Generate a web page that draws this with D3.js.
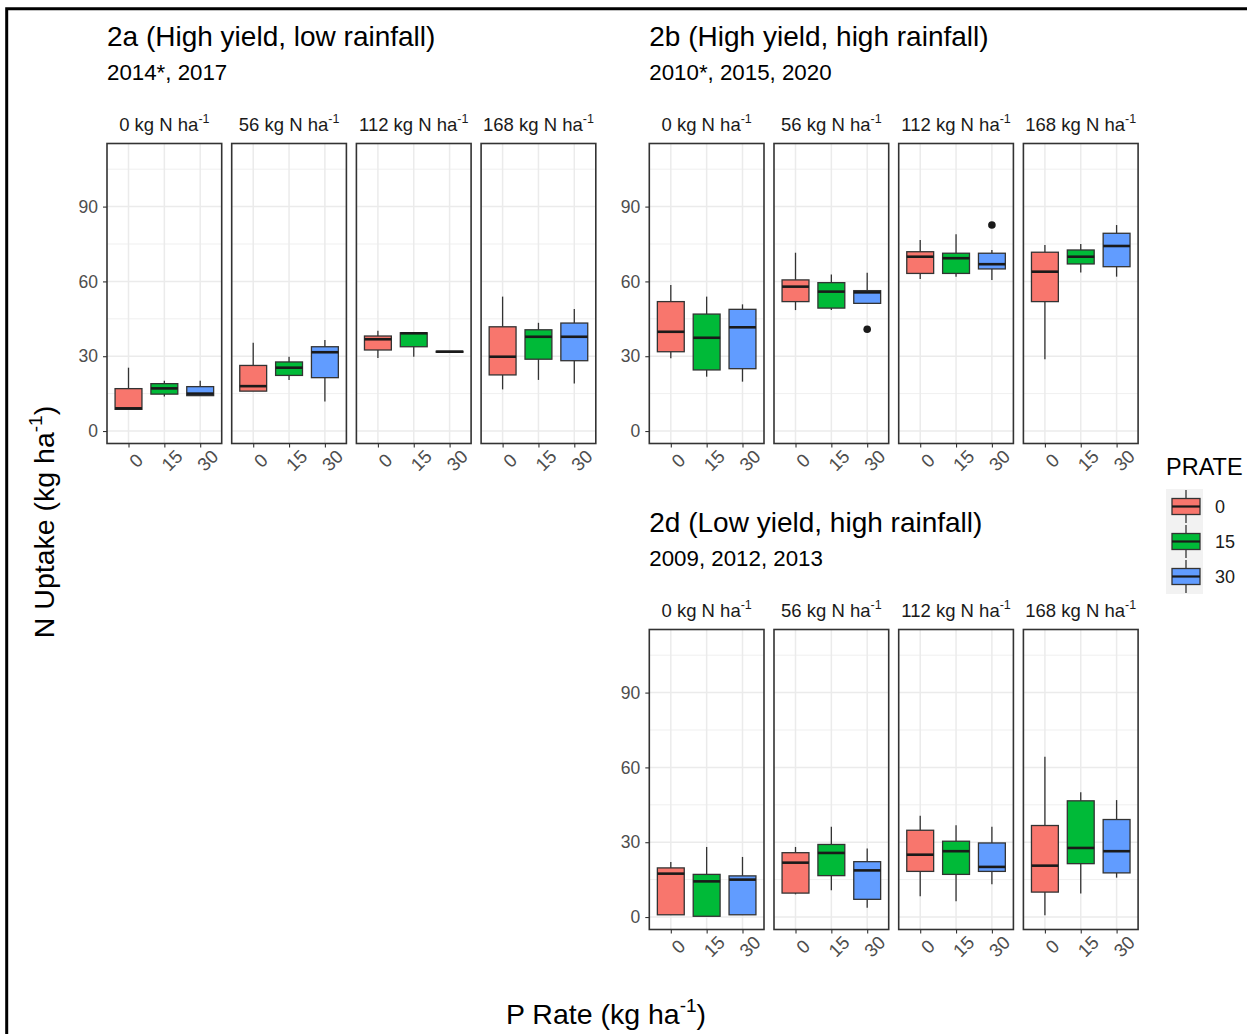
<!DOCTYPE html>
<html>
<head>
<meta charset="utf-8">
<script src="https://cdn.jsdelivr.net/npm/d3@7"></script>
<style>
  html, body { margin: 0; padding: 0; background: #fff; }
  svg { display: block; font-family: "Liberation Sans", Arial, sans-serif; }
</style>
</head>
<body>
<svg id="chart" width="1247" height="1034"></svg>
<script>
// N rates (facets) and P rates (x categories within each facet)
const nRates = ["0", "56", "112", "168"];
const pRates = ["0", "15", "30"];
const yTicks = [0, 30, 60, 90];
const yMinor = [15, 45, 75, 105];
const fillColors = ["#F8766D", "#00BA38", "#619CFF"];

// Box statistics: [lower whisker, Q1, median, Q3, upper whisker]
// one row per N rate, one entry per P rate (0, 15, 30)
const uptake2a = [
  [[8.7, 8.7, 9.1, 17.0, 25.4], [13.8, 14.8, 17.1, 19.0, 20.2], [14.2, 14.2, 15.0, 17.8, 20.2]],
  [[16.0, 16.0, 18.0, 26.3, 35.4], [20.5, 22.3, 25.4, 27.7, 29.8], [11.8, 21.4, 31.6, 33.8, 36.5]],
  [[29.3, 32.5, 36.8, 38.1, 40.2], [29.8, 33.8, 39.2, 39.4, 39.6], [31.5, 31.6, 31.8, 32.0, 32.1]],
  [[16.7, 22.5, 29.8, 41.8, 53.9], [20.5, 28.8, 37.8, 40.6, 43.4], [19.1, 28.2, 37.8, 43.3, 48.9]]
];
const uptake2b = [
  [[29.2, 31.8, 39.8, 51.9, 58.6], [21.8, 24.5, 37.4, 46.9, 53.9], [19.8, 25.0, 41.6, 48.8, 50.8]],
  [[48.5, 51.9, 57.9, 60.6, 71.5], [48.5, 49.3, 55.9, 59.5, 62.8], [51.2, 51.2, 55.6, 56.3, 63.5]],
  [[61.0, 63.2, 69.9, 71.9, 76.6], [61.9, 63.2, 69.3, 71.3, 78.9], [60.6, 65.0, 66.9, 71.3, 72.6]],
  [[28.8, 51.9, 63.9, 71.7, 74.6], [63.6, 67.0, 69.9, 72.6, 75.0], [61.9, 65.9, 74.2, 79.3, 82.6]]
];
const uptake2d = [
  [[0.9, 0.9, 17.4, 19.7, 22.1], [0.3, 0.3, 14.3, 17.1, 28.1], [0.9, 0.9, 15.0, 16.5, 24.1]],
  [[9.1, 9.6, 21.8, 25.8, 28.1], [10.7, 16.6, 25.7, 29.1, 36.2], [3.7, 7.1, 18.7, 22.2, 27.5]],
  [[8.3, 18.3, 25.0, 34.8, 40.6], [6.3, 17.1, 26.4, 30.4, 36.8], [13.1, 18.3, 20.1, 29.7, 36.2]],
  [[0.7, 10.0, 20.6, 36.7, 64.3], [9.4, 21.4, 27.7, 46.6, 50.0], [15.8, 17.7, 26.4, 39.1, 46.9]]
];
// Outlying observations: facet index, P-rate index, value
const outliers2a = [];
const outliers2b = [
  { n: 1, p: 2, v: 40.8 },
  { n: 2, p: 2, v: 82.6 }
];
const outliers2d = [];

const panelDefs = [
  { title: "2a (High yield, low rainfall)", sub: "2014*, 2017", stats: uptake2a, outliers: outliers2a, left: 107, top: 143.5 },
  { title: "2b (High yield, high rainfall)", sub: "2010*, 2015, 2020", stats: uptake2b, outliers: outliers2b, left: 649.3, top: 143.5 },
  { title: "2d (Low yield, high rainfall)", sub: "2009, 2012, 2013", stats: uptake2d, outliers: outliers2d, left: 649.3, top: 629.5 }
];

const facetW = 114.7, facetStep = 124.7, facetH = 300;
const svg = d3.select("#chart");

// outer frame
svg.append("path")
  .attr("d", "M6.7,1040 L6.7,8.7 L1260,8.7")
  .attr("fill", "none").attr("stroke", "#000").attr("stroke-width", 3);

const x = d3.scalePoint().domain(pRates).range([0, facetW]).padding(0.6);
const boxW = x.step() * 0.75;

// text with a raised "-1" exponent; an optional tail is set back on the baseline
function addSup(sel, base, sup, supSize, shift, tail) {
  sel.append("tspan").text(base);
  sel.append("tspan").attr("dy", -shift).attr("font-size", supSize).text(sup);
  if (tail) sel.append("tspan").attr("dy", shift).text(tail);
}

panelDefs.forEach(pd => {
  const y = d3.scaleLinear().domain([-5, 115.3]).range([pd.top + facetH, pd.top]);

  svg.append("text").attr("x", pd.left).attr("y", pd.top - 97.5)
    .attr("font-size", 28).attr("fill", "#000").text(pd.title);
  svg.append("text").attr("x", pd.left).attr("y", pd.top - 63.5)
    .attr("font-size", 22.3).attr("fill", "#000").text(pd.sub);

  // y axis on first facet
  const yAxis = svg.append("g").attr("transform", `translate(${pd.left},0)`)
    .call(d3.axisLeft(y).tickValues(yTicks).tickSize(4).tickPadding(5));
  yAxis.select(".domain").remove();
  yAxis.selectAll(".tick line").attr("stroke", "#333").attr("stroke-width", 1.1);
  yAxis.selectAll(".tick text").attr("fill", "#4D4D4D").attr("font-size", 17.5)
    .attr("font-family", "Liberation Sans, Arial, sans-serif");

  nRates.forEach((n, ni) => {
    const fx = pd.left + ni * facetStep;
    const g = svg.append("g").attr("transform", `translate(${fx},0)`);

    // strip label
    const st = g.append("text").attr("x", facetW / 2).attr("y", pd.top - 12.5)
      .attr("text-anchor", "middle").attr("font-size", 18.5).attr("fill", "#1A1A1A");
    addSup(st, `${n} kg N ha`, "-1", 12.5, 8);

    // panel background and grid
    g.append("rect").attr("x", 0).attr("y", pd.top).attr("width", facetW).attr("height", facetH).attr("fill", "#fff");
    g.selectAll(".minor").data(yMinor).join("line")
      .attr("x1", 0).attr("x2", facetW).attr("y1", d => y(d)).attr("y2", d => y(d))
      .attr("stroke", "#EBEBEB").attr("stroke-width", 0.8);
    g.selectAll(".major").data(yTicks).join("line")
      .attr("x1", 0).attr("x2", facetW).attr("y1", d => y(d)).attr("y2", d => y(d))
      .attr("stroke", "#EBEBEB").attr("stroke-width", 1.5);
    g.selectAll(".vmajor").data(pRates).join("line")
      .attr("x1", d => x(d)).attr("x2", d => x(d)).attr("y1", pd.top).attr("y2", pd.top + facetH)
      .attr("stroke", "#EBEBEB").attr("stroke-width", 1.5);

    // boxplots
    const boxes = pd.stats[ni].map((s, pi) => ({ p: pRates[pi], pi, s }));
    const bg = g.selectAll(".box").data(boxes).join("g");
    bg.append("line").attr("x1", d => x(d.p)).attr("x2", d => x(d.p))
      .attr("y1", d => y(d.s[3])).attr("y2", d => y(d.s[4]))
      .attr("stroke", "#333").attr("stroke-width", 1.3);
    bg.append("line").attr("x1", d => x(d.p)).attr("x2", d => x(d.p))
      .attr("y1", d => y(d.s[1])).attr("y2", d => y(d.s[0]))
      .attr("stroke", "#333").attr("stroke-width", 1.3);
    bg.append("rect").attr("x", d => x(d.p) - boxW / 2).attr("width", boxW)
      .attr("y", d => y(d.s[3])).attr("height", d => Math.max(0.5, y(d.s[1]) - y(d.s[3])))
      .attr("fill", d => fillColors[d.pi]).attr("stroke", "#333").attr("stroke-width", 1.3);
    bg.append("line").attr("x1", d => x(d.p) - boxW / 2).attr("x2", d => x(d.p) + boxW / 2)
      .attr("y1", d => y(d.s[2])).attr("y2", d => y(d.s[2]))
      .attr("stroke", "#1A1A1A").attr("stroke-width", 2.6);

    g.selectAll(".out").data(pd.outliers.filter(o => o.n === ni)).join("circle")
      .attr("cx", d => x(pRates[d.p])).attr("cy", d => y(d.v)).attr("r", 3.8).attr("fill", "#1A1A1A");

    // panel border
    g.append("rect").attr("x", 0).attr("y", pd.top).attr("width", facetW).attr("height", facetH)
      .attr("fill", "none").attr("stroke", "#333").attr("stroke-width", 1.6);

    // x axis
    const xa = g.append("g").attr("transform", `translate(0,${pd.top + facetH})`)
      .call(d3.axisBottom(x).tickSize(4));
    xa.select(".domain").remove();
    xa.selectAll(".tick line").attr("stroke", "#333").attr("stroke-width", 1.1);
    xa.selectAll(".tick text").attr("fill", "#4D4D4D").attr("font-size", 18.5)
      .attr("font-family", "Liberation Sans, Arial, sans-serif")
      .attr("y", 0).attr("dy", "0.35em").attr("text-anchor", "middle")
      .attr("transform", "translate(7,17) rotate(-45)");
  });
});

// axis titles
const yt = svg.append("text").attr("transform", "translate(54,522) rotate(-90)")
  .attr("text-anchor", "middle").attr("font-size", 28.5).attr("fill", "#000");
addSup(yt, "N Uptake (kg ha", "-1", 19, 12, ")");

const xt = svg.append("text").attr("x", 606).attr("y", 1024)
  .attr("text-anchor", "middle").attr("font-size", 28.5).attr("fill", "#000");
addSup(xt, "P Rate (kg ha", "-1", 19, 12, ")");

// legend
const lg = svg.append("g").attr("transform", "translate(1166,0)");
lg.append("text").attr("x", 0).attr("y", 475).attr("font-size", 23.5).attr("fill", "#000").text("PRATE");
const keyY = d3.scaleBand().domain(pRates).range([489, 594]);
const keys = lg.selectAll(".key").data(pRates).join("g")
  .attr("transform", d => `translate(0,${keyY(d)})`);
const kh = keyY.bandwidth();
keys.append("rect").attr("x", 0).attr("y", 0).attr("width", 37).attr("height", kh).attr("fill", "#F2F2F2");
keys.append("line").attr("x1", 20).attr("x2", 20).attr("y1", 1).attr("y2", kh - 1)
  .attr("stroke", "#333").attr("stroke-width", 1.3);
keys.append("rect").attr("x", 6).attr("y", kh / 2 - 8).attr("width", 28).attr("height", 16)
  .attr("fill", (d, i) => fillColors[i]).attr("stroke", "#333").attr("stroke-width", 1.3);
keys.append("line").attr("x1", 6).attr("x2", 34).attr("y1", kh / 2).attr("y2", kh / 2)
  .attr("stroke", "#1A1A1A").attr("stroke-width", 2.2);
keys.append("text").attr("x", 49).attr("y", kh / 2).attr("dy", "0.35em")
  .attr("font-size", 18).attr("fill", "#1A1A1A").text(d => d);
</script>
</body>
</html>
